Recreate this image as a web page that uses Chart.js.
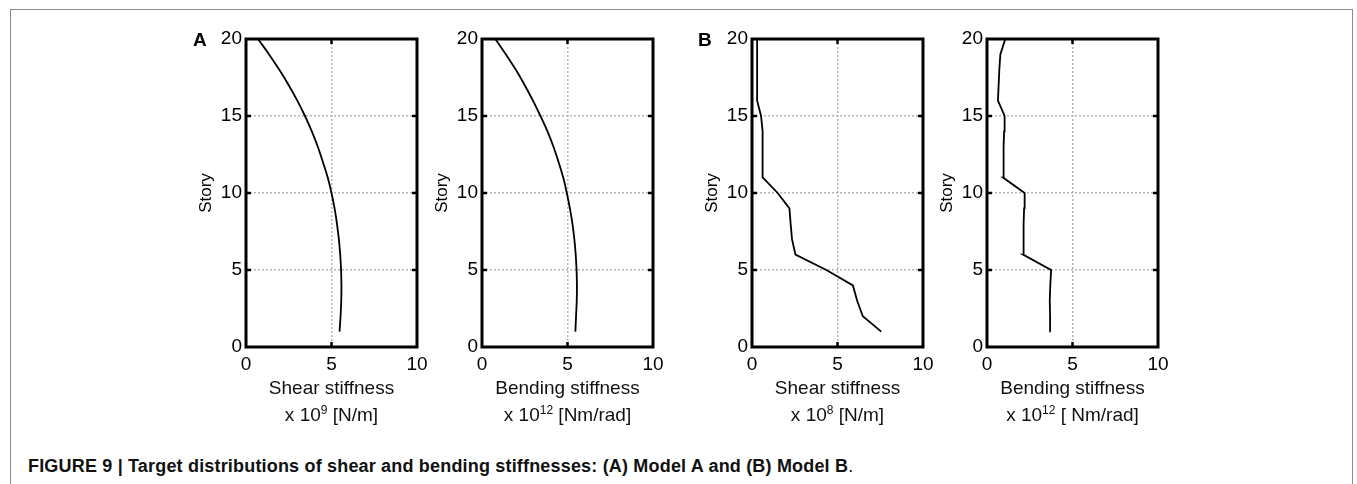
<!DOCTYPE html>
<html>
<head>
<meta charset="utf-8">
<title>Figure 9</title>
<script src="https://cdn.jsdelivr.net/npm/chart.js@4"></script>
<style>
    body { margin: 0; background: #fff; font-family: 'Liberation Sans', Arial, Helvetica, sans-serif; }
    #page { position: relative; width: 1357px; height: 484px; overflow: hidden; }
    #frame { position: absolute; left: 10px; top: 9px; width: 1341px; height: 520px; border: 1px solid #8c8c8c; border-bottom: none; }
    canvas { position: absolute; top: 0; }
    .letter { position: absolute; top: 30px; font-size: 19px; line-height: 19px; font-weight: bold; color: #000; }
    .xtitle { position: absolute; top: 374px; width: 240px; text-align: center; font-size: 19px; line-height: 27px; color: #111; }
    .xtitle sup { font-size: 12px; line-height: 0; vertical-align: 7px; }
    #caption { position: absolute; left: 28px; top: 457px; font-size: 18px; letter-spacing: 0.18px; line-height: 18px; font-weight: bold; color: #111; white-space: nowrap; }
    #caption span { font-weight: normal; }
</style>
</head>
<body>
<div id="page">
    <div id="frame"></div>

    <canvas id="shearA" width="251" height="380"></canvas>
    <canvas id="bendA" width="251" height="380"></canvas>
    <canvas id="shearB" width="251" height="380"></canvas>
    <canvas id="bendB" width="251" height="380"></canvas>

    <div class="letter" style="left:193px">A</div>
    <div class="letter" style="left:698px">B</div>

    <div class="xtitle" id="titleShearA">Shear stiffness<br>x 10<sup>9</sup> [N/m]</div>
    <div class="xtitle" id="titleBendA">Bending stiffness<br>x 10<sup>12</sup> [Nm/rad]</div>
    <div class="xtitle" id="titleShearB">Shear stiffness<br>x 10<sup>8</sup> [N/m]</div>
    <div class="xtitle" id="titleBendB">Bending stiffness<br>x 10<sup>12</sup> [ Nm/rad]</div>

    <div id="caption">FIGURE 9 | Target distributions of shear and bending stiffnesses: (A) Model A and (B) Model B<span>.</span></div>
</div>

<script>
// Data (stories 1..20, bottom to top)
const stories = [1, 2, 3, 4, 5, 6, 7, 8, 9, 10, 11, 12, 13, 14, 15, 16, 17, 18, 19, 20];

const shearA = [5.47, 5.53, 5.57, 5.58, 5.56, 5.51, 5.43, 5.32, 5.18, 5.0,
                4.78, 4.5, 4.2, 3.85, 3.45, 3.0, 2.5, 1.95, 1.35, 0.7];
const bendA  = [5.46, 5.5, 5.54, 5.55, 5.53, 5.48, 5.4, 5.29, 5.14, 4.96,
                4.75, 4.48, 4.18, 3.83, 3.42, 2.98, 2.5, 1.98, 1.4, 0.78];
const shearB = [7.56, 6.48, 6.15, 5.9, 4.35, 2.54, 2.34, 2.26, 2.19, 1.5,
                0.64, 0.62, 0.62, 0.62, 0.53, 0.3, 0.3, 0.3, 0.3, 0.3];
const bendB  = [3.71, 3.69, 3.67, 3.7, 3.75, 2.11, 2.13, 2.15, 2.17, 2.2,
                0.94, 0.96, 0.98, 1.0, 1.03, 0.64, 0.68, 0.72, 0.78, 1.07];

const xTicks = [0, 5, 10];
const yTicks = [0, 5, 10, 15, 20];
const yTitle = 'Story';

// Panel placement: left edge of each plot area; Model A curves are smooth
const panels = [
    { id: 'shearA', title: 'titleShearA', values: shearA, plotLeft: 246, smooth: true },
    { id: 'bendA',  title: 'titleBendA',  values: bendA,  plotLeft: 482, smooth: true },
    { id: 'shearB', title: 'titleShearB', values: shearB, plotLeft: 752, smooth: false },
    { id: 'bendB',  title: 'titleBendB',  values: bendB,  plotLeft: 987, smooth: false }
];

const PLOT_W = 171;
const AXIS_W = 60;
const PLOT_TOP = 39;
const PLOT_H = 308;
const CANVAS_H = 380;

Chart.defaults.font.family = "'Liberation Sans', Arial, Helvetica, sans-serif";
Chart.defaults.color = '#000';

// Thick black frame with short inward tick marks
const framePlugin = {
    id: 'frame',
    afterDraw(chart) {
        const { ctx, chartArea: a, scales } = chart;
        ctx.save();
        ctx.strokeStyle = '#000';
        ctx.lineWidth = 2.5;
        ctx.beginPath();
        yTicks.slice(1, -1).forEach(v => {
            const py = scales.y.getPixelForValue(v);
            ctx.moveTo(a.left, py); ctx.lineTo(a.left + 5, py);
            ctx.moveTo(a.right, py); ctx.lineTo(a.right - 5, py);
        });
        xTicks.slice(1, -1).forEach(v => {
            const px = scales.x.getPixelForValue(v);
            ctx.moveTo(px, a.bottom); ctx.lineTo(px, a.bottom - 5);
            ctx.moveTo(px, a.top); ctx.lineTo(px, a.top + 5);
        });
        ctx.stroke();
        ctx.lineWidth = 3;
        ctx.strokeRect(a.left, a.top, a.right - a.left, a.bottom - a.top);
        ctx.restore();
    }
};

function makePanel(panel) {
    const canvas = document.getElementById(panel.id);
    canvas.style.left = (panel.plotLeft - AXIS_W) + 'px';

    const title = document.getElementById(panel.title);
    title.style.left = (panel.plotLeft + PLOT_W / 2 - 120) + 'px';

    return new Chart(canvas, {
        type: 'scatter',
        data: {
            datasets: [{
                data: stories.map((s, i) => ({ x: panel.values[i], y: s })),
                showLine: true,
                borderColor: '#000',
                borderWidth: 1.8,
                pointRadius: 0,
                tension: panel.smooth ? 0.4 : 0,
                fill: false
            }]
        },
        options: {
            responsive: false,
            animation: false,
            devicePixelRatio: 1,
            layout: { padding: { top: PLOT_TOP, right: 20, left: 0, bottom: 0 } },
            plugins: {
                legend: { display: false },
                tooltip: { enabled: false }
            },
            scales: {
                x: {
                    type: 'linear',
                    min: 0,
                    max: 10,
                    afterFit: scale => { scale.height = CANVAS_H - PLOT_TOP - PLOT_H; },
                    afterBuildTicks: scale => { scale.ticks = xTicks.map(v => ({ value: v })); },
                    ticks: { font: { size: 19 }, padding: 6, maxRotation: 0 },
                    grid: { color: '#b4b4b4', lineWidth: 1.5, drawTicks: false },
                    border: { display: false, dash: [2, 2] }
                },
                y: {
                    type: 'linear',
                    min: 0,
                    max: 20,
                    afterFit: scale => { scale.width = AXIS_W; },
                    afterBuildTicks: scale => { scale.ticks = yTicks.map(v => ({ value: v })); },
                    ticks: { font: { size: 19 }, padding: 4 },
                    grid: { color: '#b4b4b4', lineWidth: 1.5, drawTicks: false },
                    border: { display: false, dash: [2, 2] },
                    title: {
                        display: true,
                        text: yTitle,
                        font: { size: 17 },
                        padding: { top: 10, bottom: 0 }
                    }
                }
            }
        },
        plugins: [framePlugin]
    });
}

panels.forEach(makePanel);
</script>
</body>
</html>
